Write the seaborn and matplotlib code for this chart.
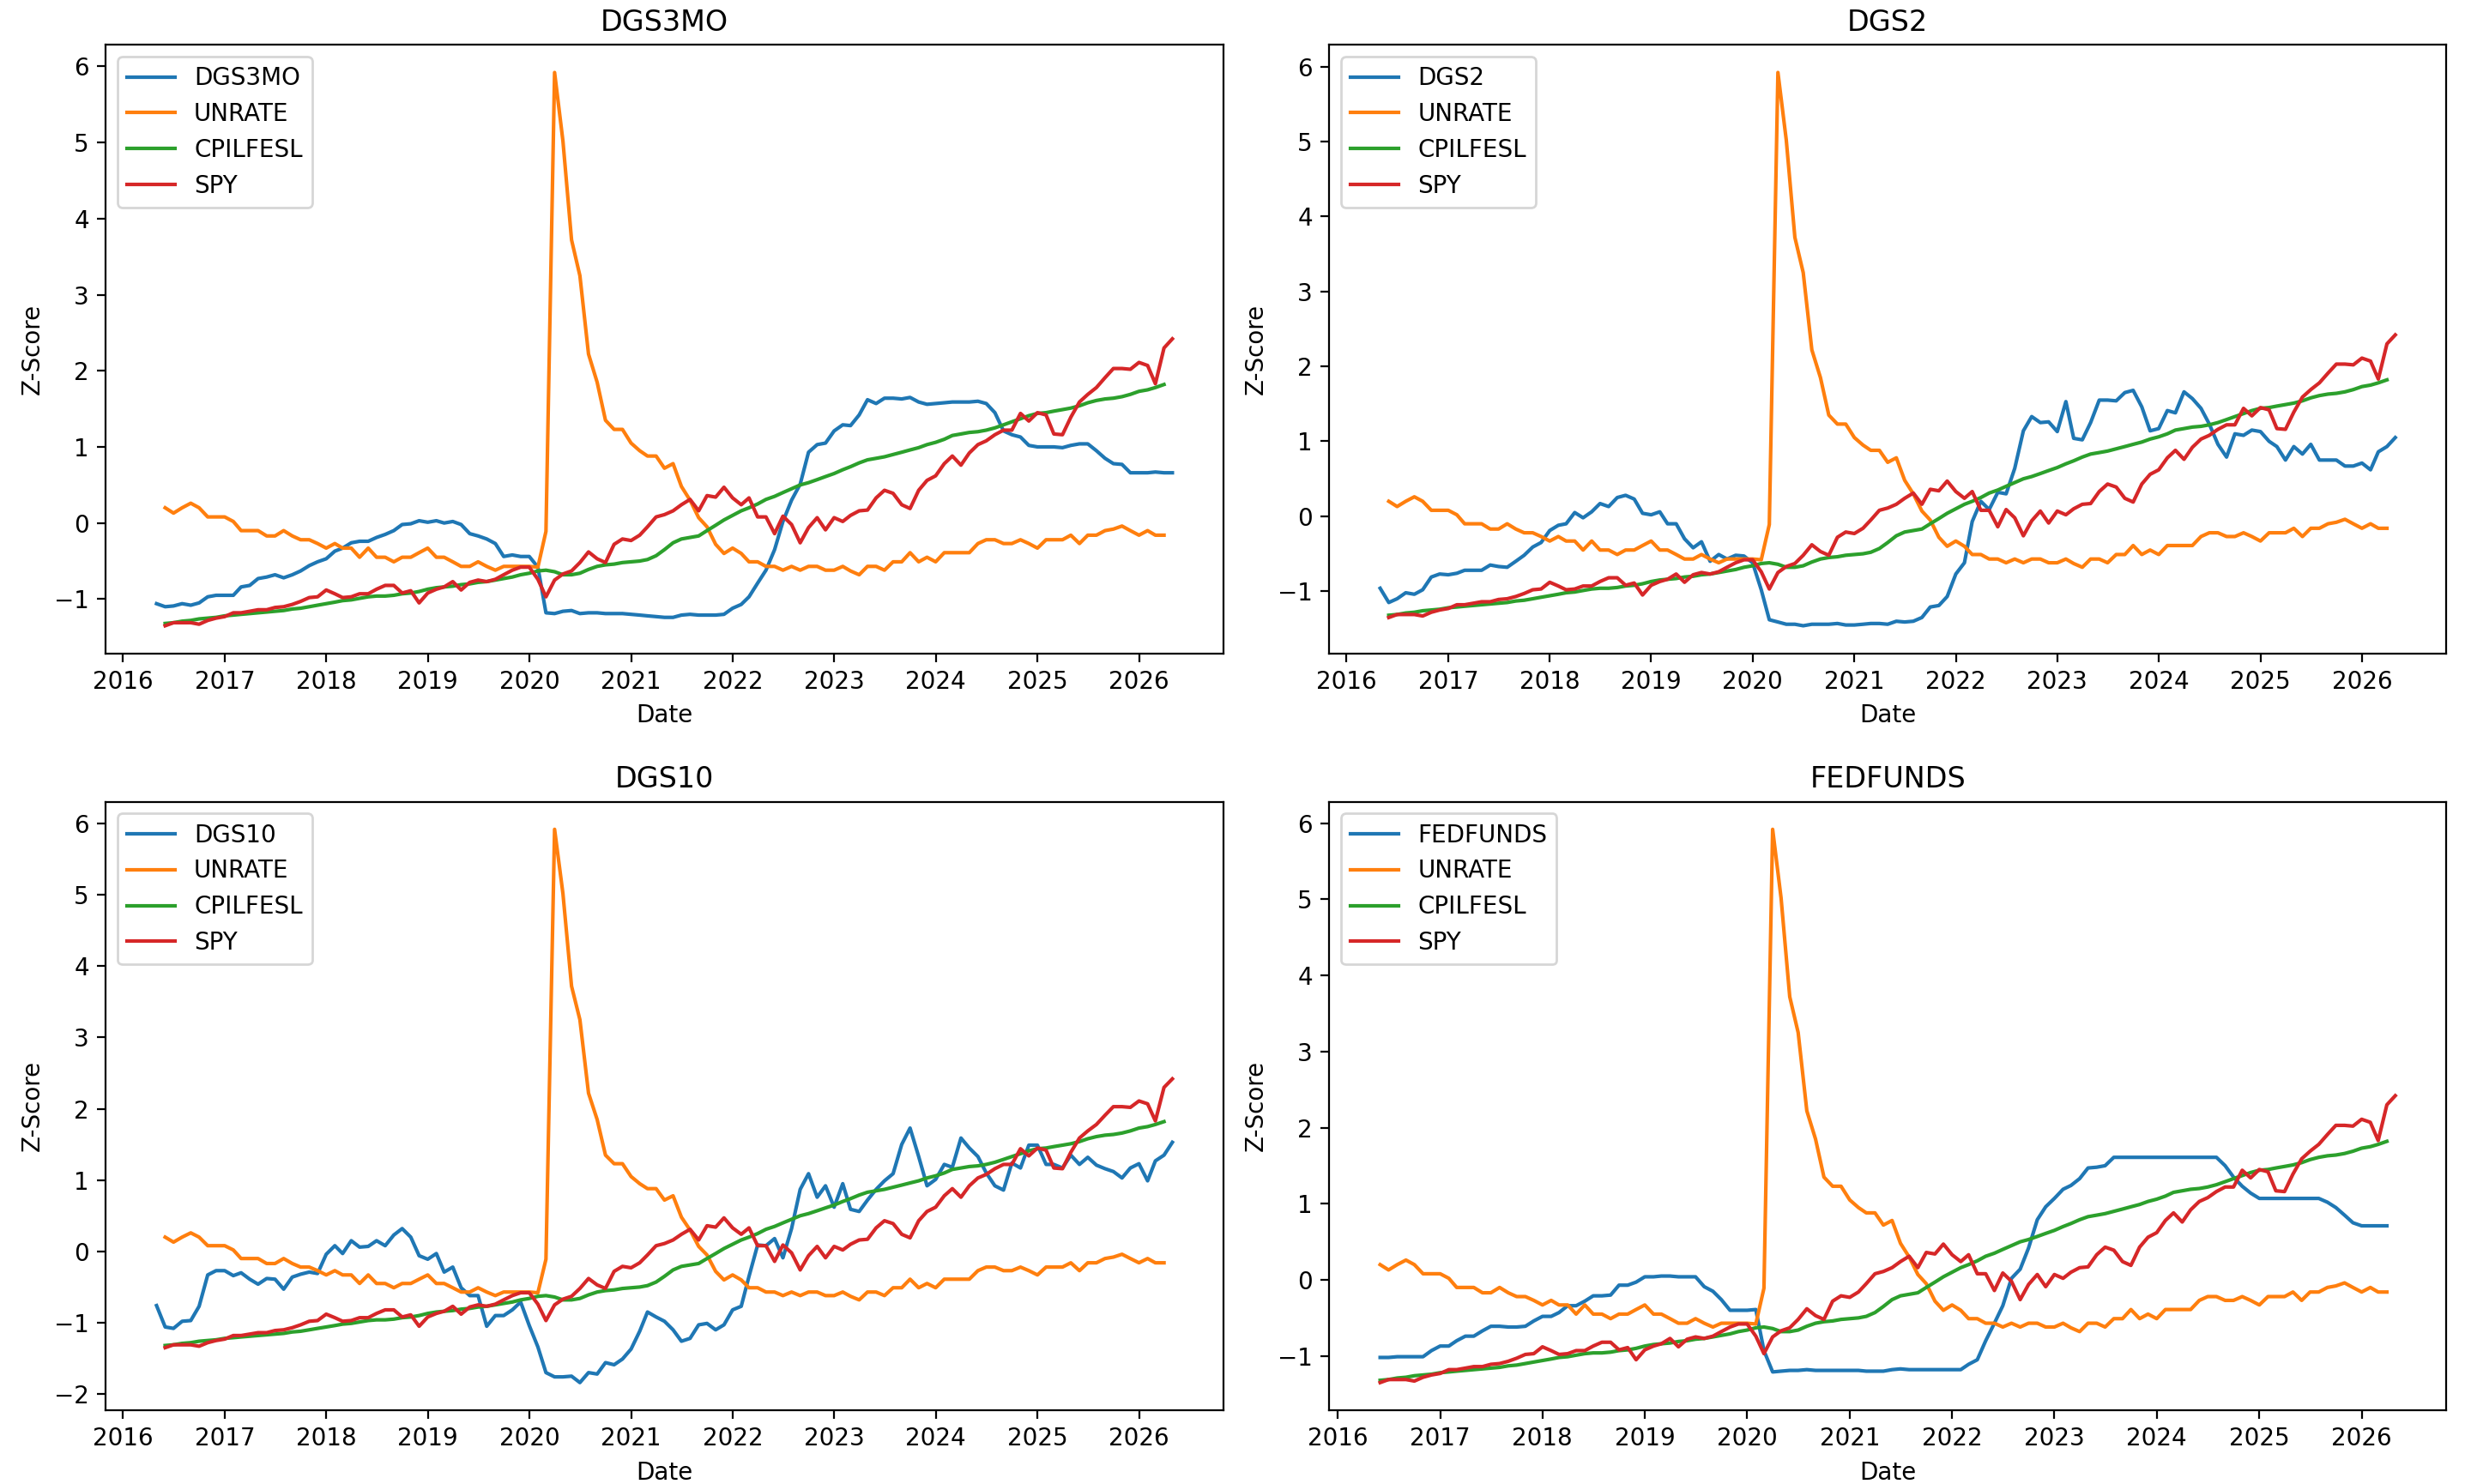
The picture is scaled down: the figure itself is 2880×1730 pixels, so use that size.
import matplotlib
matplotlib.use("Agg")
import matplotlib.pyplot as plt
import seaborn as sns
import pandas as pd

# ---------------- data (z-scores, monthly) ----------------
# Rate series: May 2016 .. May 2026
DGS3MO = [-1.06, -1.10, -1.09, -1.06, -1.08, -1.05, -0.97, -0.95,
          -0.95, -0.95, -0.84, -0.82, -0.73, -0.71, -0.68, -0.72, -0.68, -0.63, -0.56, -0.51,
          -0.47, -0.37, -0.33, -0.26, -0.24, -0.24, -0.19, -0.15, -0.10, -0.02, -0.01, 0.03,
          0.01, 0.03, 0.00, 0.02, -0.02, -0.14, -0.17, -0.21, -0.27, -0.44, -0.42, -0.44,
          -0.44, -0.58, -1.18, -1.19, -1.16, -1.15, -1.19, -1.18, -1.18, -1.19, -1.19, -1.19,
          -1.20, -1.21, -1.22, -1.23, -1.24, -1.24, -1.21, -1.20, -1.21, -1.21, -1.21, -1.20,
          -1.12, -1.07, -0.97, -0.79, -0.62, -0.35, 0.02, 0.30, 0.51, 0.93, 1.03, 1.05,
          1.21, 1.29, 1.28, 1.42, 1.62, 1.57, 1.64, 1.64, 1.63, 1.65, 1.59, 1.56,
          1.57, 1.58, 1.59, 1.59, 1.59, 1.60, 1.57, 1.45, 1.21, 1.16, 1.13, 1.02,
          1.00, 1.00, 1.00, 0.99, 1.02, 1.04, 1.04, 0.95, 0.85, 0.78, 0.77, 0.66,
          0.66, 0.66, 0.67, 0.66, 0.66]

DGS2 = [-0.96, -1.15, -1.10, -1.02, -1.04, -0.98, -0.81, -0.77,
        -0.78, -0.76, -0.72, -0.72, -0.72, -0.65, -0.67, -0.68, -0.60, -0.52, -0.41, -0.35,
        -0.19, -0.12, -0.10, 0.05, -0.02, 0.06, 0.17, 0.13, 0.25, 0.28, 0.23, 0.04,
        0.02, 0.06, -0.10, -0.10, -0.30, -0.42, -0.34, -0.60, -0.51, -0.57, -0.52, -0.53,
        -0.62, -0.98, -1.38, -1.41, -1.44, -1.44, -1.46, -1.44, -1.44, -1.44, -1.43, -1.45,
        -1.45, -1.44, -1.43, -1.43, -1.44, -1.40, -1.41, -1.40, -1.35, -1.21, -1.19, -1.07,
        -0.77, -0.62, -0.07, 0.20, 0.09, 0.32, 0.30, 0.64, 1.14, 1.33, 1.25, 1.26,
        1.13, 1.53, 1.04, 1.02, 1.25, 1.55, 1.55, 1.54, 1.65, 1.68, 1.46, 1.14,
        1.17, 1.41, 1.38, 1.66, 1.57, 1.44, 1.23, 0.96, 0.79, 1.10, 1.08, 1.15,
        1.13, 1.00, 0.93, 0.75, 0.93, 0.83, 0.96, 0.75, 0.75, 0.75, 0.67, 0.67,
        0.71, 0.62, 0.86, 0.93, 1.05]

DGS10 = [-0.76, -1.06, -1.08, -0.98, -0.97, -0.77, -0.33, -0.27,
         -0.27, -0.34, -0.30, -0.39, -0.46, -0.38, -0.39, -0.53, -0.36, -0.32, -0.29, -0.31,
         -0.04, 0.08, -0.03, 0.15, 0.06, 0.07, 0.15, 0.08, 0.23, 0.32, 0.20, -0.06,
         -0.11, -0.03, -0.29, -0.22, -0.51, -0.62, -0.62, -1.05, -0.90, -0.90, -0.82, -0.71,
         -1.04, -1.34, -1.70, -1.76, -1.76, -1.75, -1.84, -1.70, -1.72, -1.56, -1.59, -1.51,
         -1.37, -1.12, -0.85, -0.92, -0.98, -1.10, -1.26, -1.22, -1.03, -1.01, -1.10, -1.03,
         -0.82, -0.77, -0.35, 0.09, 0.08, 0.18, -0.09, 0.32, 0.87, 1.09, 0.76, 0.92,
         0.62, 0.95, 0.59, 0.56, 0.72, 0.87, 0.99, 1.09, 1.50, 1.73, 1.33, 0.92,
         1.01, 1.22, 1.18, 1.59, 1.45, 1.33, 1.10, 0.92, 0.86, 1.24, 1.17, 1.49,
         1.49, 1.22, 1.22, 1.17, 1.35, 1.22, 1.32, 1.21, 1.16, 1.12, 1.03, 1.17,
         1.23, 0.99, 1.27, 1.35, 1.53]

# FEDFUNDS: Jun 2016 .. Apr 2026
FEDFUNDS = [-1.02, -1.02, -1.01, -1.01, -1.01, -1.01, -0.93,
            -0.87, -0.87, -0.80, -0.74, -0.74, -0.67, -0.61, -0.61, -0.62, -0.62, -0.61, -0.54,
            -0.48, -0.48, -0.43, -0.34, -0.34, -0.28, -0.21, -0.21, -0.20, -0.07, -0.07, -0.03,
            0.04, 0.04, 0.05, 0.05, 0.04, 0.04, 0.04, -0.09, -0.15, -0.26, -0.40, -0.40,
            -0.40, -0.39, -0.93, -1.21, -1.20, -1.19, -1.19, -1.18, -1.19, -1.19, -1.19, -1.19,
            -1.19, -1.19, -1.20, -1.20, -1.20, -1.18, -1.17, -1.18, -1.18, -1.18, -1.18, -1.18,
            -1.18, -1.18, -1.11, -1.05, -0.80, -0.57, -0.34, 0.02, 0.14, 0.42, 0.79, 0.96,
            1.07, 1.19, 1.24, 1.33, 1.47, 1.48, 1.50, 1.61, 1.61, 1.61, 1.61, 1.61,
            1.61, 1.61, 1.61, 1.61, 1.61, 1.61, 1.61, 1.61, 1.50, 1.35, 1.23, 1.14,
            1.07, 1.07, 1.07, 1.07, 1.07, 1.07, 1.07, 1.07, 1.02, 0.95, 0.85, 0.75,
            0.71, 0.71, 0.71, 0.71]

# UNRATE: Jun 2016 .. Apr 2026
UNRATE = [0.20, 0.13, 0.20, 0.26, 0.20, 0.08, 0.08,
          0.08, 0.02, -0.10, -0.10, -0.10, -0.17, -0.17, -0.10, -0.17, -0.22, -0.22, -0.27,
          -0.33, -0.27, -0.33, -0.33, -0.45, -0.33, -0.45, -0.45, -0.51, -0.45, -0.45, -0.39,
          -0.33, -0.45, -0.45, -0.51, -0.57, -0.57, -0.51, -0.57, -0.62, -0.57, -0.57, -0.57,
          -0.57, -0.58, -0.11, 5.92, 5.02, 3.72, 3.25, 2.22, 1.85, 1.35, 1.23, 1.23,
          1.05, 0.95, 0.88, 0.88, 0.72, 0.78, 0.48, 0.30, 0.07, -0.05, -0.28, -0.40,
          -0.33, -0.40, -0.51, -0.51, -0.57, -0.57, -0.62, -0.57, -0.62, -0.57, -0.57, -0.62,
          -0.62, -0.57, -0.63, -0.68, -0.57, -0.57, -0.62, -0.51, -0.51, -0.39, -0.51, -0.45,
          -0.51, -0.39, -0.39, -0.39, -0.39, -0.27, -0.22, -0.22, -0.27, -0.27, -0.22, -0.27,
          -0.33, -0.22, -0.22, -0.22, -0.16, -0.27, -0.16, -0.16, -0.10, -0.08, -0.04, -0.10,
          -0.16, -0.10, -0.16, -0.16]

# CPILFESL: Jun 2016 .. Apr 2026
CPILFESL = [-1.32, -1.31, -1.29, -1.28, -1.26, -1.25, -1.24,
            -1.22, -1.21, -1.20, -1.19, -1.18, -1.17, -1.16, -1.15, -1.13, -1.12, -1.10, -1.08,
            -1.06, -1.04, -1.02, -1.01, -0.99, -0.97, -0.96, -0.96, -0.95, -0.93, -0.92, -0.90,
            -0.87, -0.85, -0.84, -0.83, -0.81, -0.80, -0.78, -0.77, -0.75, -0.73, -0.71, -0.68,
            -0.66, -0.63, -0.62, -0.64, -0.68, -0.68, -0.66, -0.61, -0.57, -0.55, -0.54, -0.52,
            -0.51, -0.50, -0.48, -0.43, -0.35, -0.26, -0.21, -0.19, -0.17, -0.10, -0.03, 0.04,
            0.10, 0.16, 0.20, 0.25, 0.31, 0.35, 0.40, 0.45, 0.50, 0.53, 0.57, 0.61,
            0.65, 0.70, 0.74, 0.79, 0.83, 0.85, 0.87, 0.90, 0.93, 0.96, 0.99, 1.03,
            1.06, 1.10, 1.15, 1.17, 1.19, 1.20, 1.22, 1.25, 1.29, 1.33, 1.37, 1.41,
            1.44, 1.45, 1.47, 1.49, 1.51, 1.54, 1.58, 1.61, 1.63, 1.64, 1.66, 1.69,
            1.73, 1.75, 1.78, 1.82]

# SPY: Jun 2016 .. May 2026
SPY = [-1.35, -1.31, -1.31, -1.31, -1.33, -1.28, -1.25,
       -1.23, -1.18, -1.18, -1.16, -1.14, -1.14, -1.11, -1.10, -1.07, -1.03, -0.98, -0.97,
       -0.88, -0.93, -0.98, -0.97, -0.93, -0.93, -0.87, -0.82, -0.82, -0.92, -0.89, -1.05,
       -0.92, -0.87, -0.84, -0.77, -0.88, -0.78, -0.75, -0.77, -0.74, -0.68, -0.62, -0.58,
       -0.58, -0.74, -0.97, -0.75, -0.67, -0.63, -0.52, -0.38, -0.47, -0.52, -0.28, -0.21,
       -0.23, -0.16, -0.05, 0.08, 0.11, 0.16, 0.24, 0.31, 0.16, 0.36, 0.34, 0.47,
       0.33, 0.24, 0.33, 0.08, 0.08, -0.14, 0.09, -0.02, -0.26, -0.06, 0.07, -0.09,
       0.07, 0.02, 0.10, 0.16, 0.17, 0.33, 0.43, 0.39, 0.24, 0.19, 0.43, 0.56,
       0.62, 0.78, 0.88, 0.76, 0.92, 1.03, 1.08, 1.16, 1.22, 1.22, 1.44, 1.34,
       1.45, 1.42, 1.17, 1.16, 1.39, 1.59, 1.69, 1.78, 1.91, 2.03, 2.03, 2.02,
       2.11, 2.07, 1.83, 2.30, 2.42]

RATE_START = "2016-05-01"
RATE_FEDFUNDS_START = "2016-06-01"
MACRO_START = "2016-06-01"

panels = [("DGS3MO", DGS3MO, RATE_START),
          ("DGS2", DGS2, RATE_START),
          ("DGS10", DGS10, RATE_START),
          ("FEDFUNDS", FEDFUNDS, RATE_FEDFUNDS_START)]
common = [("UNRATE", UNRATE), ("CPILFESL", CPILFESL), ("SPY", SPY)]
colors = ["#1f77b4", "#ff7f0e", "#2ca02c", "#d62728"]


def dates(start, n):
    return pd.date_range(start=start, periods=n, freq="MS")


fig, axes = plt.subplots(2, 2, figsize=(14.4, 8.65), dpi=200)
positions = [[0.0428, 0.5597, 0.4522, 0.4101],
             [0.5380, 0.5597, 0.4519, 0.4101],
             [0.0428, 0.0497, 0.4522, 0.4101],
             [0.5380, 0.0497, 0.4519, 0.4101]]

for ax, (name, vals, start), pos in zip(axes.flat, panels, positions):
    sns.lineplot(x=dates(start, len(vals)), y=vals, ax=ax, label=name,
                 color=colors[0], linewidth=1.5)
    for (cname, cvals), col in zip(common, colors[1:]):
        sns.lineplot(x=dates(MACRO_START, len(cvals)), y=cvals, ax=ax,
                     label=cname, color=col, linewidth=1.5)
    ax.set_title(name, fontsize=12)
    ax.set_xlabel("Date")
    ax.set_ylabel("Z-Score")
    ax.legend(loc="upper left")
    ax.set_position(pos)

fig.savefig("out.png", dpi=200)
